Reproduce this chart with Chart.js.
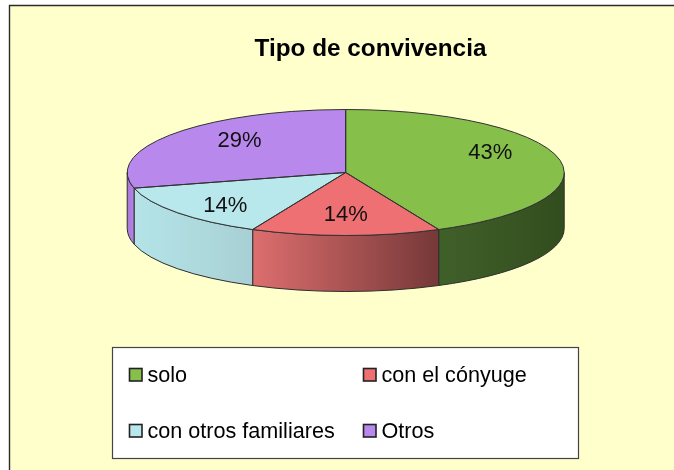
<!DOCTYPE html>
<html>
<head>
<meta charset="utf-8">
<style>
html,body{margin:0;padding:0;background:#fff;}
#wrap{position:absolute;left:0;top:0;width:674px;height:470px;}
</style>
<script src="https://cdn.jsdelivr.net/npm/chart.js@4"></script>
</head>
<body>
<div id="wrap"><canvas id="c" width="674" height="470"></canvas></div>
<script>
const categories = ['solo', 'con el cónyuge', 'con otros familiares', 'Otros'];
const shares = [43, 14, 14, 29];
const chartTitle = 'Tipo de convivencia';
const topColors = ['#87bf4b', '#ee7072', '#b8e8ec', '#b988ec'];
const wallGradients = [
  ['#40602a', '#324d1d'],
  ['#dd6e6e', '#763838'],
  ['#b4e4e8', '#a8d0d4'],
  ['#a878d8', '#b585e6']
];

const PIE = {cx: 345.7, cy: 172.5, rx: 218.5, ry: 63, depth: 56};
const labelNudge = [[6, -11], [0, 1], [-11, 7], [6, -6]];
const FONT = '"Liberation Sans", Arial, sans-serif';

function arcs(chart) { return chart.getDatasetMeta(0).data; }

const pie3d = {
  id: 'pie3d',
  beforeDraw(chart) {
    const ctx = chart.ctx;
    ctx.save();
    ctx.fillStyle = '#ffffff';
    ctx.fillRect(0, 0, 674, 470);
    ctx.fillStyle = '#ffffcc';
    ctx.fillRect(9.5, 5.5, 665, 465);
    ctx.strokeStyle = '#2b2b2b';
    ctx.lineWidth = 1.4;
    ctx.beginPath();
    ctx.moveTo(9.5, 471);
    ctx.lineTo(9.5, 5.5);
    ctx.lineTo(674, 5.5);
    ctx.stroke();

    // legend box
    ctx.fillStyle = '#ffffff';
    ctx.strokeStyle = '#444444';
    ctx.lineWidth = 1.2;
    ctx.fillRect(112.5, 347.5, 466, 111);
    ctx.strokeRect(112.5, 347.5, 466, 111);
    const spots = [[129.5, 368.5], [363.5, 368.5], [129.5, 424.5], [363.5, 424.5]];
    ctx.textBaseline = 'middle';
    ctx.textAlign = 'left';
    categories.forEach((name, i) => {
      const [x, y] = spots[i];
      ctx.fillStyle = topColors[i];
      ctx.strokeStyle = '#222222';
      ctx.lineWidth = 1.6;
      ctx.fillRect(x, y, 12.5, 12.5);
      ctx.strokeRect(x, y, 12.5, 12.5);
      ctx.fillStyle = '#000000';
      ctx.font = '21.6px ' + FONT;
      ctx.fillText(name, x + 18, y + 8);
    });
    ctx.restore();
  },
  beforeDatasetsDraw(chart) {
    const ctx = chart.ctx;
    const {cx, cy, rx, ry, depth} = PIE;
    // side walls, from the slice angles the library computed
    arcs(chart).forEach((arc, i) => {
      const a0 = Math.max(arc.startAngle, 0);
      const a1 = Math.min(arc.endAngle, Math.PI);
      if (a1 <= a0) return;
      const x0 = cx + rx * Math.cos(a0), x1 = cx + rx * Math.cos(a1);
      const g = ctx.createLinearGradient(Math.min(x0, x1), 0, Math.max(x0, x1), 0);
      g.addColorStop(0, wallGradients[i][0]);
      g.addColorStop(1, wallGradients[i][1]);
      ctx.save();
      ctx.fillStyle = g;
      ctx.strokeStyle = '#2e2e2e';
      ctx.lineWidth = 1;
      ctx.beginPath();
      ctx.ellipse(cx, cy, rx, ry, 0, a0, a1);
      ctx.ellipse(cx, cy + depth, rx, ry, 0, a1, a0, true);
      ctx.closePath();
      ctx.fill();
      ctx.stroke();
      ctx.restore();
    });
    // squash the library's pie into the tilted top face
    const first = arcs(chart)[0];
    const R = first.outerRadius;
    ctx.save();
    ctx.translate(cx, cy);
    ctx.scale(rx / R, ry / R);
    ctx.translate(-first.x, -first.y);
  },
  afterDatasetsDraw(chart) {
    const ctx = chart.ctx;
    ctx.restore();
    const {cx, cy, rx, ry} = PIE;
    ctx.save();
    arcs(chart).forEach((arc, i) => {
      ctx.strokeStyle = '#333333';
      ctx.lineWidth = 1;
      ctx.beginPath();
      ctx.moveTo(cx, cy);
      ctx.ellipse(cx, cy, rx, ry, 0, arc.startAngle, arc.endAngle);
      ctx.closePath();
      ctx.stroke();
    });
    ctx.font = '22px ' + FONT;
    ctx.fillStyle = '#111111';
    ctx.textAlign = 'center';
    ctx.textBaseline = 'middle';
    arcs(chart).forEach((arc, i) => {
      const mid = (arc.startAngle + arc.endAngle) / 2;
      const x = cx + 0.65 * rx * Math.cos(mid) + labelNudge[i][0];
      const y = cy + 0.65 * ry * Math.sin(mid) + labelNudge[i][1];
      ctx.fillText(shares[i] + '%', x, y);
    });
    ctx.restore();
  }
};

new Chart(document.getElementById('c'), {
  type: 'pie',
  data: {
    labels: categories,
    datasets: [{
      data: shares,
      backgroundColor: topColors,
      borderWidth: 0,
      clip: false
    }]
  },
  options: {
    responsive: false,
    animation: false,
    events: [],
    layout: {padding: {left: 67, top: 0}},
    plugins: {
      legend: {display: false},
      tooltip: {enabled: false},
      title: {
        display: true,
        text: chartTitle,
        color: '#000000',
        font: {family: FONT, size: 24.3, weight: 'bold'},
        padding: {top: 35, bottom: 10}
      }
    }
  },
  plugins: [pie3d]
});
</script>
</body>
</html>
